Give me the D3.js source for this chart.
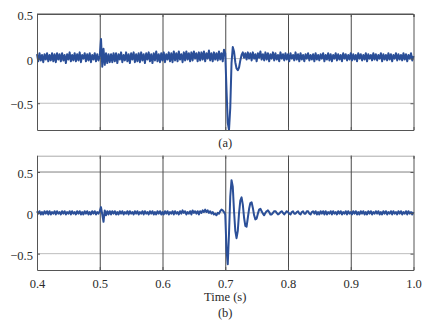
<!DOCTYPE html>
<html>
<head>
<meta charset="utf-8">
<script src="https://cdn.jsdelivr.net/npm/d3@7/dist/d3.min.js"></script>
<style>
  html, body { margin: 0; padding: 0; background: #fff; }
  svg { display: block; }
  text { font-family: "Liberation Serif", "Times New Roman", serif; fill: #2a2a2a; }
</style>
</head>
<body>
<svg id="chart" width="429" height="323"></svg>
<script>
// Sampling grid shared by both recordings (seconds)
const sampleStart = 0.4;
const sampleStep = 0.002;

// Recording (a): sampled every 2 ms from 0.400 s to 1.000 s
const signalA = [
  0.05,-0.03,0.06,-0.02,0.04,-0.04,0.05,-0.01,0.06,-0.03,
  0.04,-0.02,0.06,-0.03,0.05,-0.04,0.06,-0.01,0.05,-0.03,
  0.06,-0.02,0.04,-0.05,0.05,-0.01,0.07,-0.03,0.04,-0.02,
  0.06,-0.03,0.05,-0.02,0.07,-0.04,0.04,0.00,0.06,-0.03,
  0.05,-0.02,0.06,-0.04,0.04,-0.01,0.06,-0.03,0.05,-0.02,
  0.03,0.22,-0.09,0.11,-0.07,0.06,-0.05,0.05,-0.04,0.05,
  -0.04,0.06,-0.03,0.06,-0.05,0.05,-0.01,0.07,-0.04,0.04,
  -0.02,0.07,-0.03,0.05,-0.05,0.06,-0.01,0.07,-0.04,0.05,
  -0.03,0.06,-0.04,0.07,-0.02,0.05,-0.05,0.06,-0.01,0.07,
  -0.03,0.05,-0.05,0.06,-0.02,0.08,-0.03,0.05,-0.04,0.06,
  -0.02,0.07,-0.04,0.05,-0.01,0.07,-0.03,0.06,-0.04,0.08,
  -0.02,0.06,-0.03,0.08,-0.01,0.05,-0.04,0.07,-0.02,0.08,
  -0.01,0.06,-0.03,0.07,-0.02,0.08,0.00,0.06,-0.03,0.07,
  -0.02,0.07,-0.01,0.08,-0.03,0.06,0.00,0.09,-0.02,0.06,
  -0.03,0.07,-0.01,0.06,-0.02,0.08,-0.01,0.06,-0.03,0.10,
  0.06,-0.35,-0.72,-0.80,-0.55,-0.05,0.13,0.08,-0.04,-0.11,
  -0.13,-0.10,-0.02,0.04,0.07,0.01,0.06,-0.01,0.07,0.00,
  0.06,-0.02,0.07,0.00,0.05,-0.03,0.06,0.01,0.08,-0.01,
  0.05,-0.02,0.07,-0.01,0.06,-0.03,0.05,0.00,0.07,-0.02,
  0.06,-0.01,0.04,-0.03,0.07,0.00,0.05,-0.02,0.06,-0.01,
  0.05,-0.03,0.06,0.00,0.04,-0.02,0.07,-0.01,0.05,-0.03,
  0.06,-0.01,0.04,-0.03,0.05,0.00,0.06,-0.02,0.04,-0.01,
  0.05,-0.03,0.06,-0.01,0.04,-0.02,0.05,0.00,0.06,-0.03,
  0.04,-0.01,0.06,-0.02,0.05,-0.03,0.04,0.00,0.06,-0.02,
  0.05,-0.01,0.04,-0.03,0.06,0.00,0.05,-0.02,0.04,-0.01,
  0.06,-0.02,0.05,-0.01,0.04,-0.03,0.06,0.00,0.05,-0.02,
  0.04,-0.01,0.06,-0.03,0.05,0.00,0.04,-0.02,0.06,-0.01,
  0.05,-0.02,0.04,0.00,0.06,-0.03,0.05,-0.01,0.04,-0.02,
  0.06,-0.01,0.05,-0.03,0.04,0.00,0.06,-0.02,0.05,-0.01,
  0.04,-0.02,0.06,-0.01,0.05,-0.03,0.04,0.00,0.06,-0.02,
  0.03
];

// Recording (b): same sampling grid
const signalB = [
  0.02,-0.01,0.02,-0.02,0.01,-0.02,0.02,-0.01,0.02,-0.02,
  0.02,-0.02,0.01,-0.01,0.02,-0.02,0.02,-0.01,0.01,-0.02,
  0.02,-0.01,0.02,-0.02,0.01,-0.01,0.02,-0.02,0.02,-0.01,
  0.01,-0.02,0.02,-0.01,0.02,-0.02,0.01,-0.02,0.02,-0.01,
  0.02,-0.02,0.01,-0.02,0.02,-0.01,0.02,-0.02,0.01,-0.01,
  0.02,0.07,-0.02,-0.11,0.03,-0.03,0.02,-0.02,0.02,-0.02,
  0.02,-0.01,0.02,-0.02,0.01,-0.02,0.02,-0.01,0.02,-0.02,
  0.01,-0.01,0.02,-0.02,0.02,-0.01,0.01,-0.02,0.02,-0.01,
  0.02,-0.02,0.01,-0.01,0.02,-0.02,0.02,-0.01,0.01,-0.02,
  0.02,-0.01,0.02,-0.02,0.01,-0.02,0.02,-0.01,0.02,-0.02,
  0.01,-0.02,0.02,-0.01,0.02,-0.02,0.01,-0.01,0.02,-0.02,
  0.02,-0.01,0.01,-0.02,0.02,-0.01,0.03,0.00,0.02,-0.02,
  0.01,-0.01,0.02,-0.02,0.03,0.00,0.02,-0.01,0.02,-0.02,
  0.02,0.00,0.03,0.01,0.04,0.01,0.03,0.00,0.02,-0.01,
  0.01,-0.02,-0.01,-0.03,0.00,-0.01,0.02,0.04,0.03,0.01,
  -0.02,-0.45,-0.63,-0.25,0.20,0.40,0.32,0.02,-0.22,-0.31,
  -0.22,0.00,0.15,0.19,0.10,-0.06,-0.16,-0.17,-0.06,0.05,
  0.12,0.13,0.06,-0.03,-0.08,-0.07,-0.01,0.04,0.05,0.02,
  -0.01,-0.03,0.00,0.02,0.03,0.01,-0.02,-0.02,0.00,0.02,
  0.02,0.00,-0.02,-0.01,0.01,0.02,0.00,-0.02,0.00,0.02,
  0.01,-0.01,-0.02,0.01,0.02,-0.01,-0.01,0.01,0.02,-0.01,
  -0.02,0.01,0.02,-0.01,-0.01,0.02,0.02,-0.01,-0.02,0.01,
  0.02,-0.01,0.02,-0.02,0.01,-0.02,0.02,-0.01,0.02,-0.02,
  0.02,-0.02,0.01,-0.01,0.02,-0.02,0.02,-0.01,0.01,-0.02,
  0.02,-0.01,0.02,-0.02,0.01,-0.01,0.02,-0.02,0.02,-0.01,
  0.01,-0.02,0.02,-0.01,0.02,-0.02,0.01,-0.02,0.02,-0.01,
  0.02,-0.02,0.01,-0.02,0.02,-0.01,0.02,-0.02,0.01,-0.01,
  0.02,-0.01,0.02,-0.02,0.01,-0.02,0.02,-0.01,0.02,-0.02,
  0.01,-0.01,0.02,-0.02,0.02,-0.01,0.01,-0.02,0.02,-0.01,
  0.02,-0.02,0.01,-0.01,0.02,-0.02,0.02,-0.01,0.01,-0.02,
  0.01
];

// Axis ticks and labels
const timeTicks = [0.4, 0.5, 0.6, 0.7, 0.8, 0.9, 1.0];
const timeGrid = [0.5, 0.6, 0.7, 0.8, 0.9];
const ampTicks = [-0.5, 0, 0.5];
const domainA = [-0.8, 0.5];
const domainB = [-0.7, 0.7];
const xLabel = "Time (s)";
const panelLabels = ["(a)", "(b)"];

const svg = d3.select("#chart");
const lineColor = "#2b4f98";
const axisColor = "#555";

const left = 37, right = 413.5;
const x = d3.scaleLinear().domain([sampleStart, 1.0]).range([left, right]);

const panels = [
  { values: signalA, domain: domainA, top: 14, bottom: 130, label: panelLabels[0], labelY: 147,
    showTimeLabels: false, gridColor: { "-0.5": "#bdbdbd", "0": "#bdbdbd", "0.5": axisColor }, topColor: axisColor },
  { values: signalB, domain: domainB, top: 155.7, bottom: 270, label: panelLabels[1], labelY: 317,
    showTimeLabels: true, gridColor: { "-0.5": "#bdbdbd", "0": "#bdbdbd", "0.5": "#808080" }, topColor: "#aaaaaa" }
];

const fmtAmp = v => v === 0 ? "0" : (v < 0 ? "\u2212" + Math.abs(v).toFixed(1) : v.toFixed(1));

panels.forEach(p => {
  const y = d3.scaleLinear().domain(p.domain).range([p.bottom, p.top]);
  const h = p.bottom - p.top;
  const g = svg.append("g");

  // horizontal reference lines
  g.selectAll("line.hgrid").data(ampTicks).join("line")
    .attr("class", "hgrid")
    .attr("x1", left).attr("x2", right)
    .attr("y1", d => y(d)).attr("y2", d => y(d))
    .attr("stroke", d => p.gridColor[String(d)])
    .attr("stroke-width", 1);

  // vertical grid lines
  g.append("g")
    .attr("transform", `translate(0,${p.bottom})`)
    .call(d3.axisBottom(x).tickValues(timeGrid).tickSize(-h).tickFormat(""))
    .call(a => a.select(".domain").remove())
    .call(a => a.selectAll(".tick line").attr("stroke", "#4a4a4a").attr("stroke-width", 1));

  // signal trace
  const line = d3.line()
    .x((d, i) => x(sampleStart + i * sampleStep))
    .y(d => y(d));
  g.append("path")
    .datum(p.values)
    .attr("d", line)
    .attr("fill", "none")
    .attr("stroke", lineColor)
    .attr("stroke-width", 2)
    .attr("stroke-linejoin", "round");

  // frame: top edge
  g.append("g")
    .attr("transform", `translate(0,${p.top})`)
    .call(d3.axisTop(x).tickValues(timeTicks).tickSize(-3).tickFormat(""))
    .call(a => a.select(".domain").attr("stroke", p.topColor))
    .call(a => a.selectAll(".tick line").attr("stroke", axisColor));

  // frame: right edge
  g.append("g")
    .attr("transform", `translate(${right},0)`)
    .call(d3.axisRight(y).tickValues(ampTicks).tickSize(-3).tickSizeOuter(0).tickFormat(""))
    .call(a => a.select(".domain").attr("stroke", axisColor))
    .call(a => a.selectAll(".tick line").attr("stroke", axisColor));

  // bottom axis
  const xb = g.append("g")
    .attr("transform", `translate(0,${p.bottom})`)
    .call(d3.axisBottom(x).tickValues(timeTicks).tickSize(-3).tickSizeOuter(0)
      .tickFormat(p.showTimeLabels ? d3.format(".1f") : ""));
  xb.select(".domain").attr("stroke", axisColor);
  xb.selectAll(".tick line").attr("stroke", axisColor);
  xb.selectAll(".tick text")
    .attr("y", 17.5).attr("dy", null)
    .style("font-size", "12.5px")
    .attr("fill", "#2a2a2a");

  // left axis
  const yl = g.append("g")
    .attr("transform", `translate(${left},0)`)
    .call(d3.axisLeft(y).tickValues(ampTicks).tickSize(-3).tickSizeOuter(0).tickFormat(fmtAmp));
  yl.select(".domain").attr("stroke", axisColor);
  yl.selectAll(".tick line").attr("stroke", axisColor);
  yl.selectAll(".tick text")
    .attr("x", -4).attr("dy", "0.45em")
    .style("font-size", "12.5px")
    .attr("fill", "#2a2a2a");

  // panel caption
  svg.append("text")
    .attr("x", (left + right) / 2).attr("y", p.labelY)
    .attr("text-anchor", "middle")
    .style("font-size", "12.5px")
    .text(p.label);
});

// time axis title
svg.append("text")
  .attr("x", (left + right) / 2).attr("y", 300.5)
  .attr("text-anchor", "middle")
  .style("font-size", "12.5px")
  .text(xLabel);
</script>
</body>
</html>
